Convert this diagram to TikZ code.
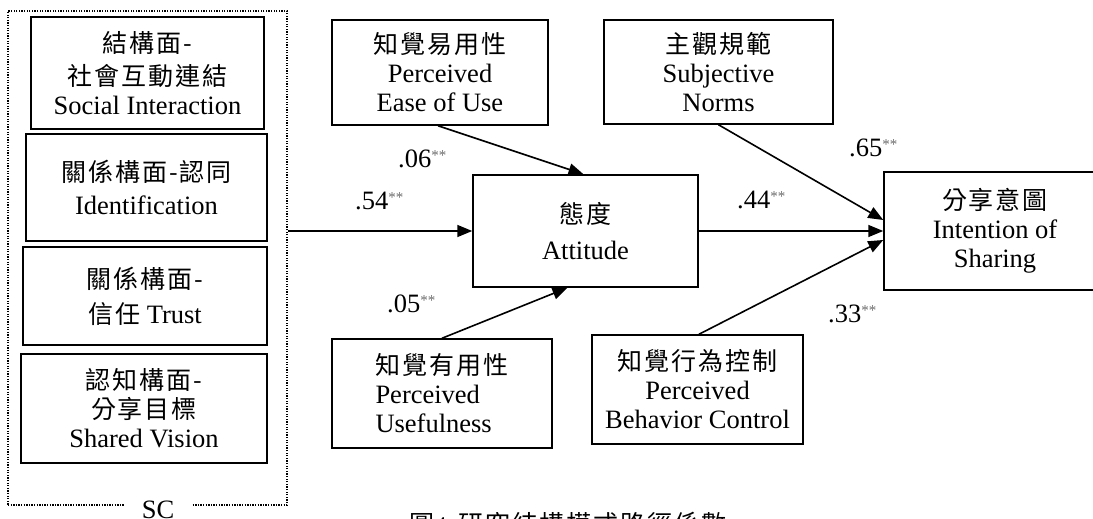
\documentclass[tikz,border=0pt]{standalone}
\usepackage{fontspec}
\setmainfont{Liberation Serif}
\newfontfamily\cjkf[LetterSpace=8]{Noto Sans CJK TC}
\newcommand\cj[1]{{\cjkf\fontsize{25}{29}\selectfont #1}}
\newcommand\sig{\textcolor{black!58}{\raisebox{7pt}{\fontsize{15}{15}\selectfont **}}}
\usetikzlibrary{arrows.meta,calc}
\begin{document}
\begin{tikzpicture}[x=1pt,y=-1pt,
  box/.style={draw,line width=1.5pt,align=center,inner sep=0pt,font=\fontsize{26.5}{29}\selectfont},
  arr/.style={line width=1.6pt,-{Triangle[length=15pt,width=12pt]}},
  lab/.style={anchor=base west,inner sep=0pt,font=\fontsize{26.5}{29}\selectfont}]
\useasboundingbox (0,0) rectangle (1093,519);
% SC group
\node[draw,dash pattern=on 1.3pt off 1.3pt,line width=1.4pt,minimum width=279pt,minimum height=494pt,inner sep=0pt] (sc) at (147.5,258) {};
\node[fill=white,inner xsep=18pt,inner ysep=2pt,font=\fontsize{26.5}{29}\selectfont,anchor=base] (sclab) at (158,518) {SC};
\node[box,minimum width=233pt,minimum height=112pt] (si) at (147.5,73) {\cj{結構面-}\\[4pt]\cj{社會互動連結}\\Social Interaction};
\node[box,minimum width=241pt,minimum height=107pt] (id) at (146.5,187.5) {\cj{關係構面-認同}\\[4pt]Identification};
\node[box,minimum width=244pt,minimum height=98pt] (tr) at (145,296) {\cj{關係構面-}\\[6pt]\cj{信任} Trust};
\node[box,minimum width=246pt,minimum height=109pt] (sv) at (144,408.5) {\cj{認知構面-}\\\cj{分享目標}\\Shared Vision};
% other constructs
\node[box,minimum width=216pt,minimum height=105pt] (peou) at (440,72.5) {\cj{知覺易用性}\\Perceived\\Ease of Use};
\node[box,minimum width=229pt,minimum height=104pt] (sn) at (718.5,72) {\cj{主觀規範}\\Subjective\\Norms};
\node[box,minimum width=225pt,minimum height=112pt] (att) at (585.5,231) {\cj{態度}\\[7pt]Attitude};
\node[box,minimum width=222pt,minimum height=118pt] (int) at (995,231) {\cj{分享意圖}\\Intention of\\Sharing};
\node[box,minimum width=220pt,minimum height=109pt,align=left] (pu) at (442,393.5) {\cj{知覺有用性}\\Perceived\\Usefulness};
\node[box,minimum width=211pt,minimum height=109pt] (pbc) at (697.5,389.5) {\cj{知覺行為控制}\\Perceived\\Behavior Control};
% paths
\draw[arr] (sc.east |- att.west) -- (att.west);
\draw[arr] ($(peou.south)+(-2,0)$) -- ($(att.north)+(-2,0)$);
\draw[arr] (pu.north) -- ($(att.south)+(-18,0)$);
\draw[arr] (att.east) -- (int.west);
\draw[arr] (sn.south) -- ($(int.west)+(0,-11)$);
\draw[arr] ($(pbc.north)+(1.5,0)$) -- ($(int.west)+(0,9)$);
% coefficients
\node[lab] (l54) at (355,209) {.54\sig};
\node[lab] (l06) at (398,167) {.06\sig};
\node[lab] (l05) at (387,312) {.05\sig};
\node[lab] (l44) at (737,208) {.44\sig};
\node[lab] (l65) at (849,156) {.65\sig};
\node[lab] (l33) at (828,322) {.33\sig};
% caption (cut off at the bottom edge, as in the reference)
\node[anchor=base,inner sep=0pt,font=\fontsize{24}{29}\selectfont] (cap) at (568,533) {\cj{圖}4\hspace{12pt}\cj{研究結構模式路徑係數}};
\end{tikzpicture}
\end{document}
